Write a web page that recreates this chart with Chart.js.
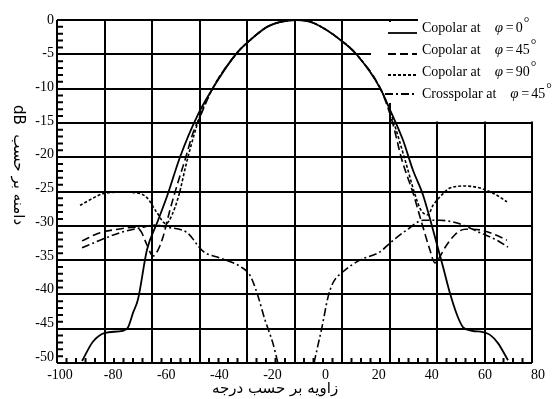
<!DOCTYPE html>
<html>
<head>
<meta charset="utf-8">
<script src="https://cdn.jsdelivr.net/npm/chart.js@4"></script>
<style>
  html, body { margin: 0; padding: 0; background: #fff; }
</style>
</head>
<body>
<canvas id="chart" width="560" height="399"></canvas>
<script>
// Valores (ângulo em graus, amplitude em dB)
const copol0Angle = [-90.5, -86.4, -81.8, -75.0, -73.1, -71.2, -69.3, -65.9, -62.1, -58.3, -53.4, -46.6, -40.9, -31.8, -27.6, -20.4, -15.5, -9.1, -3.0, 8.4, 13.7, 22.4, 26.2, 31.1, 34.9, 38.7, 42.5, 46.3, 48.9, 51.6, 53.9, 57.3, 61.4, 64.1, 67.1, 70.9];
const copol0Level = [-49.7, -46.9, -45.6, -45.3, -44.8, -42.7, -40.7, -33.5, -29.6, -25.7, -20.0, -13.8, -9.9, -4.8, -3.2, -1.0, -0.3, 0, -0.4, -3.2, -5.1, -9.9, -13.1, -17.5, -21.9, -25.5, -30.6, -36.0, -39.8, -43.0, -44.8, -45.3, -45.5, -45.9, -47.1, -49.6];

const copol45Angle = [-90.5, -83.7, -76.9, -70.4, -68.2, -65.9, -63.6, -61.7, -59.8, -57.2, -54.5, -51.5, -48.5, -45.8, -40.9, -31.8, -27.6, -20.4, -15.5, -9.1, -3.0, 8.4, 13.7, 22.4, 26.9, 30.7, 34.9, 38.7, 41.3, 43.2, 45.1, 47.0, 50.8, 54.6, 60.3, 66.0, 70.5];
const copol45Level = [-32.2, -31.0, -30.5, -30.2, -30.8, -32.8, -34.4, -33.5, -31.6, -27.7, -24.1, -20.4, -16.5, -14.1, -9.9, -4.8, -3.2, -1.0, -0.3, 0, -0.4, -3.2, -5.1, -9.9, -14.6, -20.4, -25.2, -30.2, -33.5, -35.4, -34.5, -33.2, -31.3, -30.5, -30.6, -31.3, -32.1];

const copol90Angle = [-91.3, -81.1, -74.6, -69.7, -65.9, -62.1, -58.7, -56.4, -53.8, -51.1, -48.1, -45.8, -40.9, -31.8, -27.6, -20.4, -15.5, -9.1, -3.0, 8.4, 13.7, 22.4, 26.2, 31.9, 35.7, 37.9, 40.6, 42.5, 45.1, 48.9, 54.6, 60.3, 66.0, 70.5];
const copol90Level = [-27.0, -25.2, -25.1, -25.2, -25.9, -28.1, -29.7, -28.4, -25.5, -21.1, -16.8, -14.0, -9.9, -4.8, -3.2, -1.0, -0.3, 0, -0.4, -3.2, -5.1, -9.9, -13.3, -20.4, -25.5, -27.7, -28.4, -27.0, -25.8, -24.5, -24.2, -24.5, -25.4, -26.5];

// Crosspolar: dois ramos separados pelo nulo abaixo de -50 dB
const crossLeftAngle = [-90.5, -83.7, -76.1, -68.5, -62.9, -58.3, -50.7, -44.7, -38.2, -30.7, -26.9, -24.2, -21.2, -18.2, -16.3];
const crossLeftLevel = [-33.2, -32.1, -31.0, -30.3, -29.9, -30.2, -31.0, -33.7, -34.7, -35.9, -37.2, -39.8, -43.7, -47.1, -50.0];
const crossRightAngle = [-2.6, -1.1, 0.4, 2.7, 4.6, 8.4, 14.8, 22.4, 26.2, 32.6, 38.7, 45.1, 51.6, 60.3, 66.7, 70.9];
const crossRightLevel = [-50.0, -47.4, -44.8, -40.4, -38.3, -36.7, -35.0, -33.8, -32.5, -30.6, -29.2, -29.2, -29.6, -31.0, -32.1, -33.1];

// Rótulos dos eixos
const xTickLabels = [-100, -80, -60, -40, -20, 0, 20, 40, 60, 80];
const yTickLabels = [0, -5, -10, -15, -20, -25, -30, -35, -40, -45, -50];
const legendLabels = ['Copolar at', 'Copolar at', 'Copolar at', 'Crosspolar at'];
const legendPhi = ['0', '45', '90', '45'];
const xTitle = 'زاویه بر حسب درجه';
const yTitle = 'دامنه بر حسب  dB';

const SERIF = '"Liberation Serif", "Times New Roman", serif';
const dashes = [[], [8, 4], [3, 2], [8, 3, 2, 3]];

function pontos(xs, ys) {
  return xs.map((x, i) => ({ x: x, y: ys[i] }));
}

const crossData = pontos(crossLeftAngle, crossLeftLevel)
  .concat([{ x: -9.5, y: null }])
  .concat(pontos(crossRightAngle, crossRightLevel));

function serie(label, data, dash, width) {
  return {
    label: label,
    data: data,
    showLine: true,
    borderColor: '#000',
    backgroundColor: '#000',
    borderWidth: width,
    borderDash: dash,
    pointRadius: 0,
    cubicInterpolationMode: 'monotone',
    spanGaps: false
  };
}

// Fundo branco da legenda, marcas menores e legenda desenhada à mão
const extras = {
  id: 'extras',
  beforeDatasetsDraw(chart) {
    const { ctx, chartArea: a, scales } = chart;
    const xs = scales.x, ys = scales.y;
    ctx.save();
    ctx.fillStyle = '#fff';
    ctx.fillRect(418, 0, 142, 121.5);
    ctx.fillRect(371, 22, 47, 58);
    ctx.fillRect(381, 80, 37, 23);
    ctx.strokeStyle = '#000';
    ctx.lineWidth = 2;
    ctx.beginPath();
    for (let v = -49; v < 0; v++) {
      if (v % 5 === 0) continue;
      const py = ys.getPixelForValue(v);
      ctx.moveTo(a.left, py);
      ctx.lineTo(a.left + 6, py);
    }
    for (let i = 1; i < 50; i++) {
      if (i % 5 === 0) continue;
      const px = xs.getPixelForValue(-100 + 3.6 * i);
      ctx.moveTo(px, a.bottom);
      ctx.lineTo(px, a.bottom - 5);
    }
    ctx.stroke();
    ctx.restore();
  },
  afterDraw(chart) {
    const ctx = chart.ctx;
    ctx.save();
    ctx.fillStyle = '#000';
    ctx.strokeStyle = '#000';
    const bases = [32, 54, 76, 98];
    const sampleY = [33, 54, 75, 94];
    legendLabels.forEach((txt, i) => {
      ctx.lineWidth = 1.8;
      ctx.setLineDash(dashes[i]);
      ctx.beginPath();
      ctx.moveTo(i === 3 ? 385 : 388, sampleY[i]);
      ctx.lineTo(417, sampleY[i]);
      ctx.stroke();
      ctx.setLineDash([]);
      ctx.textBaseline = 'alphabetic';
      ctx.textAlign = 'left';
      ctx.font = '14px ' + SERIF;
      ctx.fillText(txt, 422, bases[i]);
      let px = 422 + ctx.measureText(txt).width + 14;
      ctx.font = 'italic 15px ' + SERIF;
      ctx.fillText('φ', px, bases[i]);
      px += 11;
      ctx.font = '14px ' + SERIF;
      ctx.fillText('=', px, bases[i]);
      px += 10;
      ctx.fillText(legendPhi[i], px, bases[i]);
      px += ctx.measureText(legendPhi[i]).width + 1;
      ctx.font = '14px ' + SERIF;
      ctx.fillText('°', px, bases[i] - 5);
    });
    // Títulos dos eixos
    ctx.font = '15px "DejaVu Sans", sans-serif';
    ctx.direction = 'rtl';
    ctx.textAlign = 'center';
    ctx.textBaseline = 'middle';
    ctx.fillText(xTitle, 275, 389);
    ctx.translate(18, 165);
    ctx.rotate(Math.PI / 2);
    ctx.fillText(yTitle, 0, 0);
    ctx.restore();
  }
};

new Chart(document.getElementById('chart').getContext('2d'), {
  type: 'scatter',
  data: {
    datasets: [
      serie('Copolar at φ=0°', pontos(copol0Angle, copol0Level), dashes[0], 1.8),
      serie('Copolar at φ=45°', pontos(copol45Angle, copol45Level), dashes[1], 1.6),
      serie('Copolar at φ=90°', pontos(copol90Angle, copol90Level), dashes[2], 1.6),
      serie('Crosspolar at φ=45°', crossData, dashes[3], 1.6)
    ]
  },
  options: {
    responsive: false,
    animation: false,
    layout: { padding: { top: 20, right: 28, bottom: 0, left: 0 } },
    plugins: { legend: { display: false }, tooltip: { enabled: false } },
    scales: {
      x: {
        type: 'linear', position: 'bottom', min: -100, max: 80,
        afterBuildTicks: (s) => {
          const t = [];
          for (let i = 0; i <= 10; i++) t.push({ value: -100 + 18 * i });
          s.ticks = t;
        },
        ticks: { display: false },
        grid: { color: '#000', lineWidth: 2, drawTicks: false },
        border: { display: false },
        afterFit: (s) => { s.height = 0; }
      },
      xl: {
        type: 'linear', position: 'bottom', min: -101.13, max: 77.7,
        afterBuildTicks: (s) => { s.ticks = xTickLabels.map((v) => ({ value: v })); },
        ticks: { autoSkip: false, maxRotation: 0, padding: 4, color: '#000', font: { family: SERIF, size: 14 } },
        grid: { display: false, drawTicks: false },
        border: { display: false },
        afterFit: (s) => { s.height = 36; }
      },
      y: {
        type: 'linear', position: 'left', min: -50, max: 0,
        ticks: { display: false, stepSize: 5 },
        grid: { color: '#000', lineWidth: 2, drawTicks: false },
        border: { display: false },
        afterFit: (s) => { s.width = 0; }
      },
      yl: {
        type: 'linear', position: 'left', min: -50.9, max: 0,
        afterBuildTicks: (s) => { s.ticks = yTickLabels.map((v) => ({ value: v })); },
        ticks: { padding: 3, color: '#000', font: { family: SERIF, size: 14 } },
        grid: { display: false, drawTicks: false },
        border: { display: false },
        afterFit: (s) => { s.width = 57; }
      }
    }
  },
  plugins: [extras]
});
</script>
</body>
</html>
